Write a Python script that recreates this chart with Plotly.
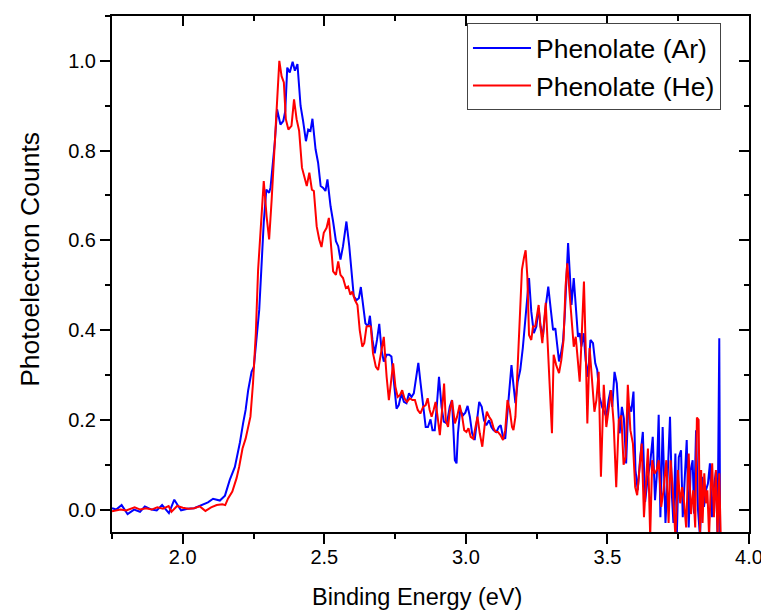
import plotly.graph_objects as go

# Phenolate (Ar) spectrum
energy_ar = [1.750, 1.765, 1.784, 1.805, 1.828, 1.849, 1.866, 1.890, 1.908, 1.927, 1.951, 1.970, 1.994, 2.017, 2.040,
             2.067, 2.089, 2.107, 2.131, 2.149, 2.166, 2.184, 2.202, 2.213, 2.222, 2.231, 2.243, 2.251, 2.260, 2.270,
             2.278, 2.286, 2.295, 2.305, 2.310, 2.317, 2.325, 2.333, 2.345, 2.355, 2.362, 2.369, 2.378, 2.388, 2.396,
             2.405, 2.416, 2.425, 2.435, 2.443, 2.451, 2.458, 2.469, 2.478, 2.487, 2.496, 2.504, 2.511, 2.522, 2.531,
             2.541, 2.549, 2.557, 2.566, 2.578, 2.588, 2.596, 2.604, 2.614, 2.622, 2.629, 2.637, 2.645, 2.655, 2.661,
             2.670, 2.678, 2.686, 2.694, 2.702, 2.710, 2.720, 2.729, 2.737, 2.746, 2.755, 2.763, 2.772, 2.781, 2.790,
             2.799, 2.808, 2.816, 2.823, 2.832, 2.840, 2.849, 2.858, 2.866, 2.875, 2.882, 2.890, 2.898, 2.905, 2.914,
             2.922, 2.933, 2.943, 2.951, 2.961, 2.967, 2.972, 2.980, 2.990, 2.998, 3.006, 3.014, 3.022, 3.031, 3.040,
             3.047, 3.056, 3.064, 3.072, 3.082, 3.090, 3.098, 3.108, 3.116, 3.123, 3.131, 3.139, 3.146, 3.154, 3.161,
             3.168, 3.175, 3.183, 3.192, 3.201, 3.210, 3.217, 3.223, 3.231, 3.240, 3.249, 3.257, 3.264, 3.272, 3.282,
             3.291, 3.300, 3.308, 3.316, 3.322, 3.329, 3.337, 3.343, 3.349, 3.355, 3.361, 3.367, 3.373, 3.381, 3.388,
             3.396, 3.402, 3.408, 3.416, 3.423, 3.431, 3.440, 3.449, 3.457, 3.464, 3.472, 3.481, 3.488, 3.496, 3.504,
             3.511, 3.517, 3.525, 3.533, 3.543, 3.551, 3.558, 3.566, 3.574, 3.584, 3.592, 3.599, 3.607, 3.615, 3.625,
             3.633, 3.642, 3.651, 3.660, 3.668, 3.674, 3.681, 3.687, 3.695, 3.705, 3.713, 3.721, 3.728, 3.733, 3.740,
             3.745, 3.752, 3.760, 3.766, 3.773, 3.780, 3.787, 3.794, 3.801, 3.806, 3.813, 3.820, 3.827, 3.834, 3.841,
             3.848, 3.855, 3.862, 3.869, 3.876, 3.883, 3.889, 3.895, 3.898]
counts_ar = [0.003, 0.000, 0.010, -0.010, 0.000, -0.005, 0.007, 0.000, -0.002, 0.010, -0.008, 0.022, -0.002, 0.002, 0.003,
             0.010, 0.016, 0.024, 0.020, 0.031, 0.066, 0.095, 0.150, 0.192, 0.222, 0.266, 0.307, 0.318, 0.371, 0.445,
             0.542, 0.640, 0.713, 0.706, 0.718, 0.758, 0.818, 0.892, 0.858, 0.866, 0.888, 0.985, 0.974, 0.998, 0.978,
             0.993, 0.900, 0.866, 0.821, 0.847, 0.844, 0.871, 0.803, 0.773, 0.721, 0.717, 0.710, 0.736, 0.676, 0.642,
             0.598, 0.587, 0.557, 0.587, 0.642, 0.587, 0.535, 0.475, 0.467, 0.471, 0.496, 0.460, 0.415, 0.408, 0.432,
             0.378, 0.348, 0.378, 0.414, 0.356, 0.330, 0.345, 0.345, 0.341, 0.281, 0.225, 0.233, 0.259, 0.240, 0.237,
             0.259, 0.251, 0.259, 0.285, 0.327, 0.281, 0.237, 0.184, 0.184, 0.201, 0.177, 0.177, 0.237, 0.296, 0.229,
             0.196, 0.192, 0.229, 0.244, 0.110, 0.103, 0.170, 0.222, 0.210, 0.216, 0.231, 0.207, 0.170, 0.155, 0.199,
             0.240, 0.229, 0.199, 0.188, 0.199, 0.184, 0.177, 0.173, 0.184, 0.188, 0.162, 0.158, 0.207, 0.274, 0.322,
             0.278, 0.237, 0.285, 0.311, 0.360, 0.423, 0.482, 0.516, 0.441, 0.393, 0.408, 0.449, 0.408, 0.385, 0.453,
             0.497, 0.445, 0.400, 0.404, 0.363, 0.330, 0.352, 0.374, 0.430, 0.527, 0.594, 0.527, 0.456, 0.516, 0.453,
             0.385, 0.393, 0.363, 0.393, 0.333, 0.296, 0.378, 0.371, 0.326, 0.311, 0.251, 0.229, 0.218, 0.207, 0.244,
             0.266, 0.229, 0.307, 0.281, 0.170, 0.229, 0.203, 0.103, 0.237, 0.218, 0.263, 0.088, 0.043, 0.110, 0.173,
             0.017, 0.069, 0.103, 0.162, 0.021, 0.073, 0.211, -0.017, 0.184, -0.030, 0.080, 0.207, 0.028, -0.030, 0.125,
             -0.060, 0.117, 0.132, -0.017, 0.073, 0.155, -0.040, 0.088, 0.110, -0.009, 0.177, -0.002, -0.060, 0.073, 0.006,
             0.043, 0.058, 0.103, -0.017, 0.050, 0.084, -0.060, 0.382, -0.060]

# Phenolate (He) spectrum
energy_he = [1.750, 1.765, 1.780, 1.800, 1.830, 1.850, 1.870, 1.890, 1.910, 1.930, 1.950, 1.960, 1.980, 2.000, 2.020,
             2.040, 2.060, 2.080, 2.100, 2.120, 2.140, 2.150, 2.160, 2.175, 2.190, 2.199, 2.211, 2.222, 2.231, 2.239,
             2.248, 2.258, 2.266, 2.275, 2.286, 2.296, 2.305, 2.314, 2.322, 2.331, 2.341, 2.349, 2.357, 2.364, 2.373,
             2.384, 2.393, 2.402, 2.411, 2.421, 2.430, 2.438, 2.447, 2.456, 2.463, 2.473, 2.482, 2.490, 2.498, 2.508,
             2.516, 2.523, 2.531, 2.541, 2.549, 2.557, 2.566, 2.576, 2.584, 2.592, 2.599, 2.608, 2.617, 2.625, 2.634,
             2.641, 2.649, 2.658, 2.664, 2.672, 2.682, 2.690, 2.699, 2.710, 2.720, 2.728, 2.735, 2.743, 2.751, 2.759,
             2.767, 2.775, 2.783, 2.792, 2.802, 2.811, 2.820, 2.830, 2.839, 2.849, 2.858, 2.865, 2.872, 2.879, 2.886,
             2.893, 2.900, 2.908, 2.916, 2.923, 2.929, 2.937, 2.943, 2.951, 2.961, 2.969, 2.978, 2.987, 2.994, 3.002,
             3.009, 3.017, 3.026, 3.033, 3.041, 3.049, 3.058, 3.067, 3.074, 3.082, 3.090, 3.098, 3.105, 3.113, 3.122,
             3.131, 3.139, 3.147, 3.155, 3.163, 3.168, 3.175, 3.183, 3.192, 3.198, 3.205, 3.211, 3.217, 3.223, 3.231,
             3.237, 3.245, 3.257, 3.263, 3.270, 3.282, 3.290, 3.296, 3.304, 3.310, 3.319, 3.329, 3.337, 3.345, 3.352,
             3.358, 3.367, 3.374, 3.381, 3.388, 3.395, 3.402, 3.410, 3.417, 3.423, 3.429, 3.437, 3.445, 3.454, 3.461,
             3.469, 3.477, 3.487, 3.496, 3.504, 3.513, 3.522, 3.531, 3.540, 3.549, 3.557, 3.564, 3.572, 3.581, 3.590,
             3.598, 3.605, 3.613, 3.621, 3.629, 3.636, 3.643, 3.651, 3.658, 3.666, 3.674, 3.681, 3.690, 3.698, 3.708,
             3.716, 3.723, 3.731, 3.740, 3.749, 3.757, 3.764, 3.771, 3.778, 3.787, 3.795, 3.803, 3.810, 3.816, 3.822,
             3.827, 3.831, 3.836, 3.842, 3.848, 3.853, 3.859, 3.865, 3.870, 3.876, 3.883, 3.889, 3.895, 3.900]
counts_he = [-0.004, -0.002, 0.000, -0.002, 0.005, 0.000, 0.003, 0.000, 0.005, 0.002, 0.008, -0.005, 0.008, 0.004, 0.002,
             0.003, 0.007, -0.003, 0.005, 0.010, 0.012, 0.010, 0.025, 0.040, 0.070, 0.095, 0.136, 0.158, 0.181, 0.207,
             0.281, 0.393, 0.534, 0.616, 0.732, 0.654, 0.602, 0.691, 0.788, 0.892, 1.000, 0.966, 0.952, 0.870, 0.847,
             0.855, 0.914, 0.870, 0.844, 0.762, 0.739, 0.721, 0.751, 0.713, 0.710, 0.631, 0.602, 0.585, 0.617, 0.628,
             0.650, 0.587, 0.531, 0.523, 0.553, 0.523, 0.516, 0.494, 0.497, 0.479, 0.486, 0.467, 0.456, 0.400, 0.363,
             0.371, 0.408, 0.409, 0.408, 0.348, 0.318, 0.311, 0.341, 0.385, 0.296, 0.244, 0.281, 0.326, 0.274, 0.251,
             0.255, 0.266, 0.248, 0.240, 0.248, 0.244, 0.244, 0.222, 0.214, 0.229, 0.233, 0.248, 0.222, 0.207, 0.222,
             0.240, 0.207, 0.166, 0.222, 0.281, 0.199, 0.184, 0.218, 0.244, 0.192, 0.207, 0.233, 0.207, 0.177, 0.173,
             0.181, 0.162, 0.158, 0.181, 0.207, 0.170, 0.140, 0.192, 0.218, 0.207, 0.199, 0.181, 0.173, 0.173, 0.166,
             0.155, 0.177, 0.244, 0.222, 0.184, 0.177, 0.207, 0.330, 0.438, 0.535, 0.561, 0.578, 0.520, 0.389, 0.378,
             0.408, 0.408, 0.456, 0.408, 0.371, 0.461, 0.363, 0.266, 0.170, 0.345, 0.322, 0.304, 0.333, 0.378, 0.497,
             0.549, 0.475, 0.408, 0.363, 0.385, 0.333, 0.285, 0.400, 0.508, 0.363, 0.192, 0.360, 0.296, 0.218, 0.244,
             0.307, 0.073, 0.278, 0.184, 0.229, 0.266, 0.192, 0.050, 0.199, 0.210, 0.100, 0.117, 0.278, 0.177, 0.147,
             0.050, 0.032, 0.091, 0.147, -0.017, 0.065, 0.136, -0.060, 0.110, 0.080, 0.088, 0.110, 0.006, 0.043, 0.110,
             -0.030, 0.110, 0.043, -0.060, 0.088, 0.014, 0.050, 0.014, -0.040, 0.125, -0.010, 0.043, -0.040, 0.205, 0.200,
             -0.060, 0.088, -0.030, 0.081, 0.014, 0.043, -0.060, 0.050, 0.103, -0.017, 0.088, -0.060, 0.081, -0.060]

FONT = "Arial, Liberation Sans, sans-serif"

fig = go.Figure()
fig.add_trace(go.Scatter(x=energy_ar, y=counts_ar, mode='lines', name='Phenolate (Ar)',
                         line=dict(color='#0000FF', width=2)))
fig.add_trace(go.Scatter(x=energy_he, y=counts_he, mode='lines', name='Phenolate (He)',
                         line=dict(color='#FF0000', width=2)))
# empty trace so the top/right frame axes (inward ticks) get drawn
fig.add_trace(go.Scatter(x=[None], y=[None], xaxis='x2', yaxis='y2', showlegend=False, hoverinfo='skip'))

xrange_ = [1.75, 4.0]
yrange_ = [-0.05, 1.1]

# page body has an 8px margin, so the figure is 8px smaller and the left/top margins 8px narrower
fig.update_layout(
    width=761, height=607,
    margin=dict(l=104, r=20, t=8, b=83),
    plot_bgcolor='white', paper_bgcolor='white',
    font=dict(family=FONT, size=20, color='black'),
    xaxis=dict(range=xrange_, automargin=False, showgrid=False, zeroline=False, showline=True, linecolor='black',
               linewidth=2, ticks='outside', ticklen=10, tickwidth=2, tickcolor='black', tick0=0, dtick=0.5,
               tickformat='.1f', tickfont=dict(size=20), ticklabelstandoff=-4,
               minor=dict(ticks='outside', ticklen=5, tickwidth=2, tickcolor='black', dtick=0.25, showgrid=False)),
    yaxis=dict(range=yrange_, automargin=False, showgrid=False, zeroline=False, showline=True, linecolor='black',
               linewidth=2, ticks='outside', ticklen=10, tickwidth=2, tickcolor='black', tick0=0, dtick=0.2,
               tickformat='.1f', tickfont=dict(size=20),
               minor=dict(ticks='outside', ticklen=5, tickwidth=2, tickcolor='black', dtick=0.1, showgrid=False)),
    xaxis2=dict(range=xrange_, overlaying='x', side='top', anchor='y2', automargin=False, showgrid=False,
                zeroline=False, showline=True, linecolor='black', linewidth=2, showticklabels=False,
                ticks='inside', ticklen=10, tickwidth=2, tickcolor='black', tick0=0, dtick=0.5,
                minor=dict(ticks='inside', ticklen=5, tickwidth=2, tickcolor='black', dtick=0.25, showgrid=False)),
    yaxis2=dict(range=yrange_, overlaying='y', side='right', anchor='x2', automargin=False, showgrid=False,
                zeroline=False, showline=True, linecolor='black', linewidth=2, showticklabels=False,
                ticks='inside', ticklen=10, tickwidth=2, tickcolor='black', tick0=0, dtick=0.2,
                minor=dict(ticks='inside', ticklen=5, tickwidth=2, tickcolor='black', dtick=0.1, showgrid=False)),
    legend=dict(x=0.956, y=0.986, xanchor='right', yanchor='top', bgcolor='white', itemwidth=58,
                bordercolor='#444444', borderwidth=1, font=dict(size=26.5), tracegroupgap=0),
    showlegend=True,
)

# axis titles as annotations (the reference places them slightly off-centre)
fig.add_annotation(text='Binding Energy (eV)', xref='paper', yref='paper', x=0.479, y=-0.126,
                   xanchor='center', yanchor='middle', showarrow=False, font=dict(size=23.5))
fig.add_annotation(text='Photoelectron Counts', xref='paper', yref='paper', x=-0.129, y=0.529,
                   xanchor='center', yanchor='middle', textangle=-90, showarrow=False, font=dict(size=26.5))

fig.write_html("out.html")
